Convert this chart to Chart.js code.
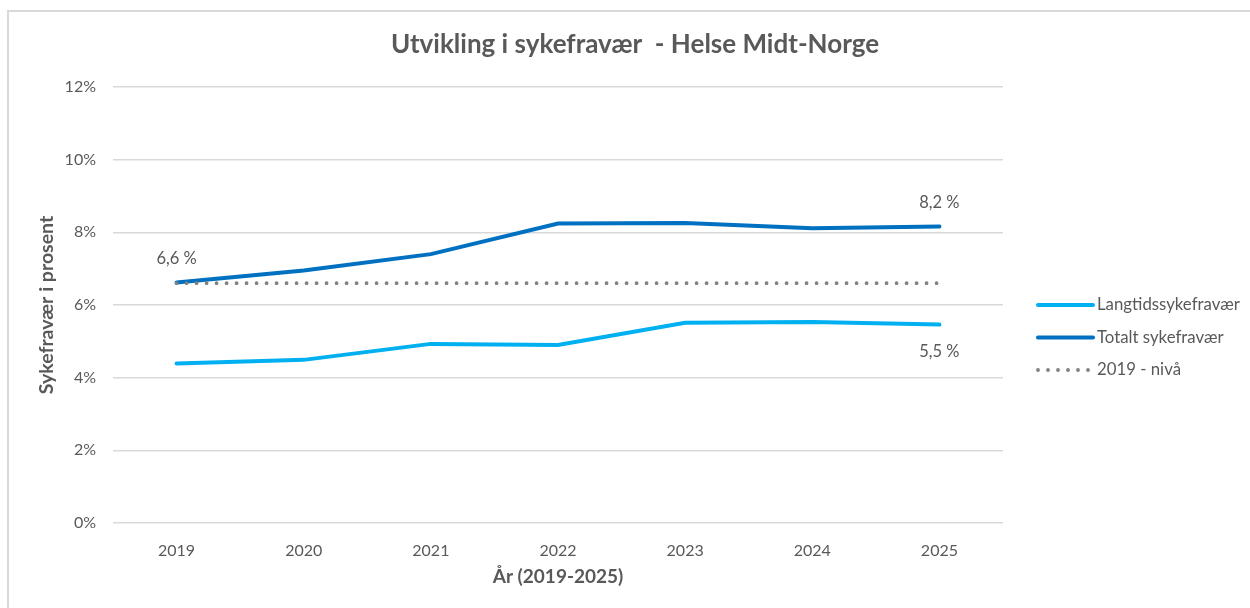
<!DOCTYPE html>
<html>
<head>
<meta charset="utf-8">
<script src="https://cdn.jsdelivr.net/npm/chart.js@4/dist/chart.umd.min.js"></script>
<style>
  html, body { margin: 0; padding: 0; background: #fff; overflow: hidden; }
  #wrap { position: relative; width: 1250px; height: 608px; }
  #frame { position: absolute; left: 7px; top: 10px; width: 1260px; height: 620px; border: 2px solid #d9d9d9; box-sizing: border-box; }
  canvas { position: absolute; left: 0; top: 0; }
</style>
</head>
<body>
<div id="wrap">
  <div id="frame"></div>
  <canvas id="chart" width="1250" height="608"></canvas>
</div>
<script>
const years = ['2019', '2020', '2021', '2022', '2023', '2024', '2025'];
const langtids = [4.39, 4.49, 4.93, 4.90, 5.51, 5.53, 5.46];
const totalt = [6.62, 6.95, 7.40, 8.24, 8.26, 8.11, 8.16];
const niva2019 = [6.6, 6.6, 6.6, 6.6, 6.6, 6.6, 6.6];
const seriesNames = ['Langtidssykefravær', 'Totalt sykefravær', '2019 - nivå'];
const chartTitle = 'Utvikling i sykefravær  - Helse Midt-Norge';
const yMin = 0, yMax = 12, yStep = 2;

const FONT = 'Lato, "Open Sans", sans-serif';
const TXT = '#595959';

// which points get a value label: dataset index, point index, offset in px
const valueLabels = [
  { ds: 1, i: 0, dy: -24 },
  { ds: 1, i: 6, dy: -24 },
  { ds: 0, i: 6, dy: 27 }
];

const fmt = v => v.toFixed(1).replace('.', ',') + ' %';

// title centred on the whole picture, not only on the plot
const titlePlugin = {
  id: 'pageTitle',
  afterDraw(chart) {
    const ctx = chart.ctx;
    ctx.save();
    ctx.font = 'bold 26px ' + FONT;
    ctx.fillStyle = TXT;
    ctx.textAlign = 'center';
    ctx.textBaseline = 'middle';
    ctx.fillText(chartTitle, 635, 45);
    ctx.restore();
  }
};

const labelPlugin = {
  id: 'valueLabels',
  afterDatasetsDraw(chart) {
    const ctx = chart.ctx;
    ctx.save();
    ctx.font = '16.5px ' + FONT;
    ctx.fillStyle = TXT;
    ctx.textAlign = 'center';
    ctx.textBaseline = 'middle';
    valueLabels.forEach(l => {
      const pt = chart.getDatasetMeta(l.ds).data[l.i];
      const v = chart.data.datasets[l.ds].data[l.i];
      ctx.fillText(fmt(v), pt.x, pt.y + l.dy);
    });
    ctx.restore();
  }
};

const legendPlugin = {
  id: 'sideLegend',
  afterDraw(chart) {
    const ctx = chart.ctx;
    ctx.save();
    ctx.font = '16.8px ' + FONT;
    ctx.textBaseline = 'middle';
    chart.data.datasets.forEach((ds, k) => {
      const y = 305 + k * 32.5;
      ctx.beginPath();
      ctx.strokeStyle = ds.borderColor;
      ctx.lineWidth = ds.borderWidth;
      ctx.lineCap = ds.borderCapStyle || 'butt';
      ctx.setLineDash(ds.borderDash || []);
      ctx.moveTo(1038, y);
      ctx.lineTo(1093, y);
      ctx.stroke();
      ctx.setLineDash([]);
      ctx.fillStyle = TXT;
      ctx.fillText(ds.label, 1097, y);
    });
    ctx.restore();
  }
};

new Chart(document.getElementById('chart'), {
  type: 'line',
  data: {
    labels: years,
    datasets: [
      {
        label: seriesNames[0],
        data: langtids,
        borderColor: '#00b0f0',
        borderWidth: 4,
        borderCapStyle: 'round',
        pointRadius: 0,
        tension: 0
      },
      {
        label: seriesNames[1],
        data: totalt,
        borderColor: '#0070c0',
        borderWidth: 4,
        borderCapStyle: 'round',
        pointRadius: 0,
        tension: 0
      },
      {
        label: seriesNames[2],
        data: niva2019,
        borderColor: '#808080',
        borderWidth: 3.8,
        borderCapStyle: 'round',
        borderDash: [0, 10],
        pointRadius: 0,
        order: -1
      }
    ]
  },
  options: {
    responsive: false,
    animation: false,
    layout: { padding: { left: 20, right: 247, top: 87, bottom: 0 } },
    plugins: {
      legend: { display: false },
      tooltip: { enabled: false },
      title: { display: false }
    },
    scales: {
      x: {
        offset: true,
        grid: { display: false, drawTicks: false },
        border: { display: false },
        ticks: { color: TXT, font: { family: FONT, size: 16 }, padding: 18 },
        title: {
          display: true,
          text: 'År (2019-2025)',
          color: TXT,
          font: { family: FONT, size: 19, weight: 'bold', lineHeight: 1.2 },
          padding: { top: 0, bottom: 20 }
        },
        afterFit(s) { s.height = 85; }
      },
      y: {
        min: yMin,
        max: yMax,
        grid: { color: '#d9d9d9', lineWidth: 1.5, drawTicks: false },
        border: { display: false },
        ticks: {
          stepSize: yStep,
          color: TXT,
          font: { family: FONT, size: 16 },
          padding: 17,
          callback: v => v + '%'
        },
        title: {
          display: true,
          text: 'Sykefravær i prosent',
          color: TXT,
          font: { family: FONT, size: 19.5, weight: 'bold', lineHeight: 1.2 },
          padding: { top: 15, bottom: 0 }
        },
        afterFit(s) { s.width = 93; }
      }
    }
  },
  plugins: [titlePlugin, labelPlugin, legendPlugin]
});
</script>
</body>
</html>
